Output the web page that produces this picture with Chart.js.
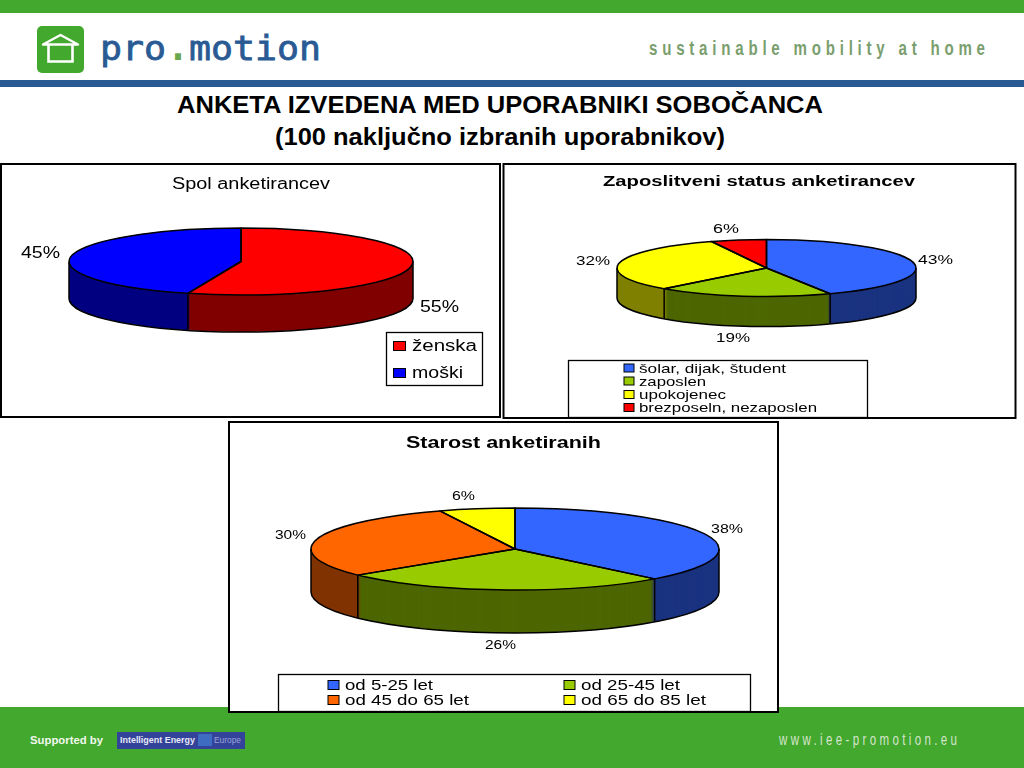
<!DOCTYPE html>
<html><head><meta charset="utf-8">
<script src="https://cdn.jsdelivr.net/npm/chart.js@4"></script>
<style>
html,body{margin:0;padding:0;background:#fff;width:1024px;height:768px;overflow:hidden}
.a{position:absolute}
.t{position:absolute;white-space:nowrap;transform-origin:0 50%;line-height:1}
canvas{position:absolute}
</style></head><body>
<div class="a" style="left:0;top:0;width:1024px;height:13px;background:#43a82e"></div>
<div class="a" style="left:0;top:80px;width:1024px;height:7px;background:#2a5a94"></div>
<div class="a" style="left:0;top:707px;width:1024px;height:61px;background:#43a82e"></div>
<div class="a" style="left:37px;top:26px;width:47px;height:47px;border-radius:5px;background:#43a82e"></div>
<svg class="a" style="left:37px;top:26px" width="47" height="47"><path d="M6 18.5 L23.5 9 L41 18.5 Z" fill="none" stroke="#fff" stroke-width="2.4" stroke-linejoin="round"/><path d="M11.5 18 V35.5 H35.5 V18" fill="none" stroke="#fff" stroke-width="2.6"/></svg>
<div class="a" style="left:117px;top:732px;width:128px;height:17px;background:#34439a"></div>
<div class="a" style="left:198px;top:734px;width:14px;height:12px;background:#3d6cc0"></div>
<div id="header"></div>
<canvas id="c1" width="501" height="255" style="left:0;top:163px"></canvas>
<canvas id="c2" width="515" height="256" style="left:502px;top:163px"></canvas>
<canvas id="c3" width="551" height="292" style="left:228px;top:421px"></canvas>
<script>
// ---- data ----
const genderTitle = "Spol anketirancev";
const genderLabels = ["ženska", "moški"];
const genderValues = [55, 45];
const genderColours = ["#ff0000", "#0000ff"];
const genderSides = ["#800000", "#000080"];

const statusTitle = "Zaposlitveni status anketirancev";
const statusLabels = ["šolar, dijak, študent", "zaposlen", "upokojenec", "brezposeln, nezaposlen"];
const statusValues = [43, 19, 32, 6];
const statusColours = ["#3366ff", "#99cc00", "#ffff00", "#ff0000"];
const statusSides = ["#1a3380", "#4d6600", "#808000", "#800000"];

const ageTitle = "Starost anketiranih";
const ageLabels = ["od 5-25 let", "od 25-45 let", "od 45 do 65 let", "od 65 do 85 let"];
const ageValues = [38, 26, 30, 6];
const ageColours = ["#3366ff", "#99cc00", "#ff6600", "#ffff00"];
const ageSides = ["#1a3380", "#4d6600", "#803300", "#808000"];

// ---- page texts ----
const SANS = '"Liberation Sans",Arial,sans-serif';
const header = document.getElementById('header');
function pageText(text, x, y, w, css, squeeze){
  const s = document.createElement('div');
  s.className = 't'; s.textContent = text; s.style.cssText = css;
  s.style.left = x + 'px';
  header.appendChild(s);
  const nat = s.getBoundingClientRect().width, h = s.getBoundingClientRect().height;
  s.style.top = (y - h / 2) + 'px';
  if (squeeze) {
    s.style.letterSpacing = ((w / squeeze - nat) / (text.length - 1)) + 'px';
    s.style.transform = 'scaleX(' + squeeze + ')';
  } else s.style.transform = 'scaleX(' + (w / nat) + ')';
}
pageText("ANKETA IZVEDENA MED UPORABNIKI SOBOČANCA", 177, 105, 646, 'font:bold 24px ' + SANS + ';color:#000');
pageText("(100 naključno izbranih uporabnikov)", 275, 137, 450, 'font:bold 24px ' + SANS + ';color:#000');
pageText("pro", 100, 48, 66, 'font:34.5px "DejaVu Sans Mono",monospace;color:#2a5a94;-webkit-text-stroke:.8px #2a5a94');
pageText(".", 167, 47, 22, 'font:bold 36.5px "DejaVu Sans Mono",monospace;color:#6aa84f');
pageText("motion", 189, 48, 132, 'font:34.5px "DejaVu Sans Mono",monospace;color:#2a5a94;-webkit-text-stroke:.8px #2a5a94');
pageText("sustainable mobility at home", 649, 48, 336, 'font:bold 21px ' + SANS + ';color:#7b9e6e', 0.72);
pageText("Supported by", 30, 739.5, 73, 'font:bold 11px ' + SANS + ';color:#f2f7ee');
pageText("Intelligent Energy", 120, 739.5, 75, 'font:bold 8.5px ' + SANS + ';color:#e6e8f5');
pageText("Europe", 214, 739.5, 27, 'font:9px ' + SANS + ';color:#98a4d8');
pageText("www.iee-promotion.eu", 779, 739.5, 178, 'font:16px ' + SANS + ';color:#d5e4cc', 0.72);

// ---- 3D pie drawing through Chart.js arc elements ----
function fitText(ctx, text, x, y, w, font){
  ctx.save();
  ctx.font = font; ctx.textBaseline = 'middle'; ctx.textAlign = 'left'; ctx.fillStyle = '#000';
  const m = ctx.measureText(text).width;
  ctx.translate(x, y + 1); ctx.scale(w / m, 1);
  ctx.fillText(text, 0, 0);
  ctx.restore();
}
function arcOpts(colour){
  return {backgroundColor: colour, borderColor: colour, borderWidth: 0, borderAlign: 'center',
          borderJoinStyle: 'round', borderRadius: 0, borderDash: [], borderDashOffset: 0,
          offset: 0, spacing: 0, circular: true};
}
function drawArc(ctx, el, pie, dy, colour){
  const saved = el.options;
  el.options = arcOpts(colour);
  ctx.save();
  ctx.translate(pie.cx, pie.cy + dy);
  ctx.scale(1, pie.ry / pie.rx);
  ctx.translate(-el.x, -el.y);
  el.draw(ctx);
  ctx.restore();
  el.options = saved;
}
const pie3d = {
  id: 'pie3d',
  beforeDraw(chart, args, o){
    const ctx = chart.ctx, b = o.box;
    ctx.save();
    ctx.fillStyle = '#fff'; ctx.fillRect(0, 0, chart.width, chart.height);
    ctx.strokeStyle = '#000'; ctx.lineWidth = 2;
    ctx.strokeRect(b.l, b.t, b.w, b.h);
    ctx.restore();
  },
  beforeDatasetsDraw(chart, args, o){
    const ctx = chart.ctx, els = chart.getDatasetMeta(0).data, p = o.pie;
    const ds = chart.data.datasets[0];
    for (let d = p.depth; d >= 1; d--)
      els.forEach((el, i) => drawArc(ctx, el, p, d, o.sides[i]));
    els.forEach((el, i) => drawArc(ctx, el, p, 0, ds.backgroundColor[i]));
    ctx.save();
    ctx.strokeStyle = '#000'; ctx.lineWidth = 1.5; ctx.lineJoin = 'round';
    ctx.beginPath();
    ctx.ellipse(p.cx, p.cy + p.depth, p.rx, p.ry, 0, 0, Math.PI);
    ctx.moveTo(p.cx - p.rx, p.cy); ctx.lineTo(p.cx - p.rx, p.cy + p.depth);
    ctx.moveTo(p.cx + p.rx, p.cy); ctx.lineTo(p.cx + p.rx, p.cy + p.depth);
    els.forEach(el => {
      const a = el.startAngle;
      if (Math.sin(a) > 0) {
        const x = p.cx + p.rx * Math.cos(a), y = p.cy + p.ry * Math.sin(a);
        ctx.moveTo(x, y); ctx.lineTo(x, y + p.depth);
      }
    });
    ctx.stroke();
    els.forEach(el => {
      ctx.beginPath();
      ctx.moveTo(p.cx, p.cy);
      ctx.ellipse(p.cx, p.cy, p.rx, p.ry, 0, el.startAngle, el.endAngle);
      ctx.closePath();
      ctx.stroke();
    });
    ctx.restore();
    return false;
  },
  afterDraw(chart, args, o){
    const ctx = chart.ctx, ds = chart.data.datasets[0], L = o.legend;
    fitText(ctx, o.title, o.titlePos[0], o.titlePos[1], o.titlePos[2], o.titleFont);
    ds.data.forEach((v, i) => {
      const q = o.valuePos[i];
      fitText(ctx, v + '%', q[0], q[1], q[2], o.valueFont);
    });
    ctx.save();
    ctx.fillStyle = '#fff'; ctx.strokeStyle = '#000'; ctx.lineWidth = 1.3;
    ctx.fillRect(L.x, L.y, L.w, L.h); ctx.strokeRect(L.x, L.y, L.w, L.h);
    chart.data.labels.forEach((t, i) => {
      const q = L.items[i];
      ctx.fillStyle = ds.backgroundColor[i]; ctx.lineWidth = 1;
      ctx.fillRect(q[0], q[1] - L.sw[1] / 2, L.sw[0], L.sw[1]);
      ctx.strokeRect(q[0], q[1] - L.sw[1] / 2, L.sw[0], L.sw[1]);
      fitText(ctx, t, q[2], q[1], q[3], L.font);
    });
    ctx.restore();
  }
};
function makePie(id, labels, values, colours, sides, title, layout){
  new Chart(document.getElementById(id), {
    type: 'pie',
    data: {labels: labels, datasets: [{data: values, backgroundColor: colours, borderWidth: 0}]},
    options: {
      responsive: false, animation: false, events: [],
      radius: layout.pie.rx,
      layout: {padding: 0},
      plugins: {
        legend: {display: false}, tooltip: {enabled: false}, title: {display: false},
        pie3d: Object.assign({title: title, sides: sides}, layout)
      }
    },
    plugins: [pie3d]
  });
}
makePie('c1', genderLabels, genderValues, genderColours, genderSides, genderTitle, {
  box: {l: 1, t: 1, w: 499, h: 253},
  pie: {cx: 241, cy: 98.5, rx: 172, ry: 33.5, depth: 37},
  titlePos: [172, 21, 158], titleFont: '16px ' + SANS,
  valueFont: '16px ' + SANS,
  valuePos: [[420, 144, 39], [21, 90, 39]],
  legend: {x: 386.5, y: 169.5, w: 96, h: 53, sw: [12, 9], font: '16px ' + SANS,
           items: [[393.5, 183, 412, 65], [393.5, 210, 412, 51]]}
});
makePie('c2', statusLabels, statusValues, statusColours, statusSides, statusTitle, {
  box: {l: 1.5, t: 1, w: 512, h: 254},
  pie: {cx: 264.5, cy: 105, rx: 149.5, ry: 28.5, depth: 30},
  titlePos: [101, 18, 312], titleFont: 'bold 14px ' + SANS,
  valueFont: '13px ' + SANS,
  valuePos: [[416, 96.5, 35], [214, 174.5, 34], [74, 97.5, 34], [211, 65.5, 26]],
  legend: {x: 66.5, y: 197.5, w: 299, h: 57, sw: [10, 8], font: '13px ' + SANS,
           items: [[122, 205, 137, 147], [122, 218, 137, 67], [122, 231.5, 137, 87], [122, 244.5, 137, 178]]}
});
makePie('c3', ageLabels, ageValues, ageColours, ageSides, ageTitle, {
  box: {l: 1, t: 1, w: 549, h: 290},
  pie: {cx: 287, cy: 128, rx: 204, ry: 41, depth: 43},
  titlePos: [178, 21.5, 195], titleFont: 'bold 16px ' + SANS,
  valueFont: '12.5px ' + SANS,
  valuePos: [[483, 107.5, 32], [257, 223.5, 31], [47, 113.5, 31], [224, 74.5, 23]],
  legend: {x: 50.5, y: 253.5, w: 472, h: 37, sw: [11, 9], font: '15px ' + SANS,
           items: [[100, 264, 117, 88], [336, 264, 353, 99], [100, 279, 117, 124], [336, 279, 353, 125]]}
});
</script>
</body></html>
